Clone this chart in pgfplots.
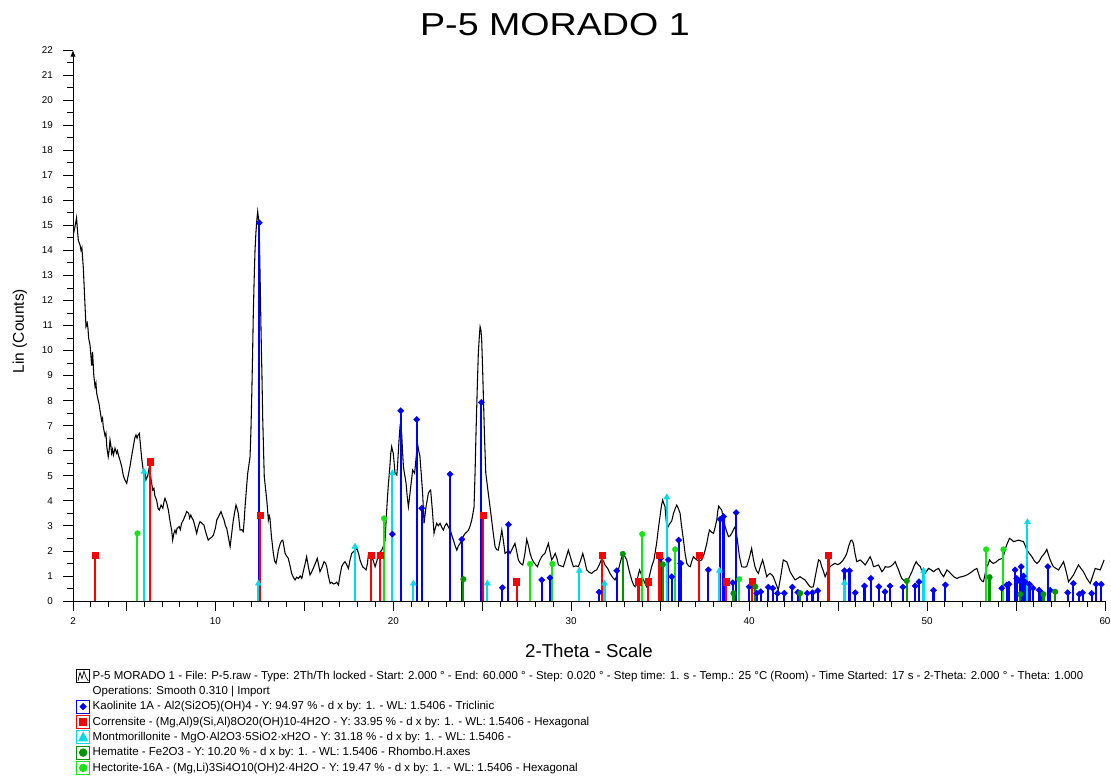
\documentclass[border=0pt]{standalone}
\usepackage{fontspec}
\setmainfont{Liberation Sans}
\usepackage{pgfplots}
\pgfplotsset{compat=1.18}
\usetikzlibrary{arrows.meta}
\definecolor{kblue}{RGB}{0,0,255}
\definecolor{cred}{RGB}{255,0,0}
\definecolor{mcyan}{RGB}{0,220,235}
\definecolor{hgreen}{RGB}{0,150,0}
\definecolor{lgreen}{RGB}{20,230,20}
\begin{document}
\begin{tikzpicture}
\useasboundingbox (-54.75pt,-132pt) rectangle (778.5pt,450.75pt);
\begin{axis}[
  at={(0,0)}, anchor=south west,
  scale only axis, width=774pt, height=413.25pt,
  xmin=2, xmax=60, ymin=0, ymax=22,
  axis x line=bottom, axis y line=left,
  x axis line style={-, line width=0.7pt},
  y axis line style={-{Latex[length=5pt,width=4pt]}, line width=0.7pt},
  tick align=outside,
  xtick={2,10,20,30,40,50,60},
  extra x ticks={5,15,25,35,45,55}, extra x tick labels={},
  minor xtick={3,4,...,59},
  ytick={0,1,...,22},
  minor ytick={0.5,1.5,...,21.5},
  major tick length=7.5pt, minor tick length=4.5pt,
  every tick/.style={black, line width=0.6pt},
  /pgf/number format/assume math mode=true,
  tick label style={font=\fontsize{7.4}{8}\selectfont},
  yticklabel style={xshift=-4pt},
  xticklabel style={yshift=-1.5pt},
  xlabel={2-Theta - Scale},
  xlabel style={at={(axis description cs:0.5,-0.0907)}, anchor=center, font=\fontsize{14}{16}\selectfont},
  ylabel={Lin (Counts)},
  ylabel style={at={(axis description cs:-0.0515,0.49)}, anchor=center, rotate=0, font=\fontsize{11.6}{13}\selectfont},
  title={\scalebox{1.185}[1]{P-5 MORADO 1}},
  title style={at={(axis description cs:0.467,1.011)}, anchor=base, font=\fontsize{23.8}{28}\selectfont},
  legend style={at={(axis description cs:0.0029,-0.1216)}, anchor=north west, draw=none, fill=none,
    inner sep=0pt, row sep=0pt, /tikz/column sep=1.2pt,
    font=\fontsize{8.62}{9.8}\selectfont,
    nodes={inner sep=0.8pt, text height=7.5pt, text depth=2.4pt}},
  legend cell align=left,
]
% measured pattern
\addplot[black, line width=0.8pt, mark=none,
  legend image code/.code={\draw[black,line width=0.5pt] (0pt,-4.9pt) rectangle (9.75pt,4.9pt);
    \draw[black,line width=0.5pt] (1pt,-3.6pt) -- (2.5pt,2.6pt) -- (4pt,-2pt) -- (5.5pt,3.6pt) -- (7pt,-1pt) -- (8.75pt,-3.8pt);}]
coordinates {
(2.04,14.7) (2.1,14.9) (2.2,15.3) (2.25,14.8) (2.3,14.4) (2.35,14.3) (2.4,14.2) (2.45,14.0) (2.5,14.1) (2.58,13.3) (2.65,12.2) (2.73,10.95) (2.8,11.1) (2.84,10.9) (2.88,10.5) (2.96,10.2) (3.05,9.4) (3.1,9.95) (3.17,9.0) (3.24,8.55) (3.29,8.7) (3.33,8.3) (3.42,8.0) (3.47,7.85) (3.52,7.6) (3.61,7.2) (3.66,7.3) (3.7,6.96) (3.8,6.6) (3.85,6.7) (3.9,6.16) (3.98,5.76) (4.03,6.0) (4.08,6.43) (4.13,6.2) (4.17,5.9) (4.22,6.05) (4.27,5.83) (4.36,6.1) (4.45,5.9) (4.5,6.0) (4.55,5.83) (4.65,5.6) (4.74,5.36) (4.83,5.0) (4.92,4.83) (5.02,4.7) (5.1,5.0) (5.2,5.36) (5.3,5.8) (5.39,6.16) (5.47,6.5) (5.54,6.63) (5.6,6.5) (5.64,6.6) (5.73,6.69) (5.8,6.16) (5.86,5.7) (5.92,5.36) (6.0,5.0) (6.05,5.1) (6.1,4.83) (6.2,5.0) (6.29,5.36) (6.38,4.9) (6.48,4.43) (6.55,4.5) (6.6,4.2) (6.7,4.03) (6.78,3.7) (6.85,3.63) (6.95,3.83) (7.05,3.7) (7.11,3.95) (7.17,4.1) (7.27,3.9) (7.36,3.63) (7.45,3.2) (7.55,2.8) (7.6,2.43) (7.67,2.7) (7.73,2.83) (7.79,2.7) (7.85,2.9) (7.97,2.97) (8.03,2.85) (8.1,3.1) (8.2,3.23) (8.3,3.4) (8.39,3.57) (8.5,3.5) (8.56,3.3) (8.62,3.43) (8.7,3.3) (8.76,3.23) (8.85,3.0) (8.95,2.7) (9.05,3.0) (9.14,3.17) (9.25,3.1) (9.36,3.03) (9.42,2.85) (9.48,2.7) (9.6,2.43) (9.7,2.5) (9.8,2.55) (9.89,2.63) (10.0,2.9) (10.08,3.23) (10.2,3.4) (10.32,3.57) (10.4,3.4) (10.49,3.23) (10.57,3.0) (10.64,2.9) (10.72,2.6) (10.83,2.17) (10.92,2.7) (11.01,3.23) (11.1,3.6) (11.16,3.83) (11.22,3.7) (11.29,3.5) (11.35,3.1) (11.39,2.83) (11.48,2.85) (11.57,2.77) (11.62,3.2) (11.67,3.76) (11.75,4.5) (11.82,5.1) (11.9,5.5) (11.95,5.76) (12.0,6.8) (12.04,8.0) (12.09,9.7) (12.13,11.35) (12.18,12.8) (12.23,14.0) (12.28,14.7) (12.33,15.2) (12.38,15.55) (12.42,15.3) (12.47,14.7) (12.52,12.8) (12.57,10.7) (12.62,9.0) (12.66,7.36) (12.71,6.0) (12.75,4.96) (12.82,4.5) (12.89,4.03) (12.94,3.6) (12.98,3.23) (13.03,3.4) (13.07,3.3) (13.15,2.6) (13.26,1.9) (13.33,1.6) (13.41,1.5) (13.48,1.75) (13.54,2.03) (13.65,2.3) (13.72,2.4) (13.79,2.43) (13.85,2.2) (13.92,1.9) (14.0,1.8) (14.1,1.7) (14.2,1.4) (14.29,1.1) (14.38,0.95) (14.48,0.84) (14.57,0.95) (14.67,0.9) (14.77,1.0) (14.86,0.9) (14.95,1.2) (15.05,1.5) (15.13,1.77) (15.22,1.4) (15.32,1.04) (15.41,1.15) (15.5,1.3) (15.62,1.5) (15.73,1.7) (15.8,1.45) (15.88,1.17) (16.0,1.35) (16.11,1.57) (16.2,1.5) (16.26,1.37) (16.35,1.0) (16.45,0.7) (16.55,0.75) (16.63,0.68) (16.73,0.7) (16.82,0.75) (16.92,0.64) (17.0,1.0) (17.1,1.37) (17.2,1.5) (17.29,1.57) (17.38,1.45) (17.48,1.3) (17.56,1.6) (17.66,1.9) (17.8,2.0) (17.95,2.1) (18.05,1.9) (18.13,1.64) (18.2,1.5) (18.28,1.37) (18.38,1.3) (18.47,1.24) (18.55,1.5) (18.6,1.84) (18.7,1.8) (18.79,1.77) (18.88,1.6) (18.98,1.37) (19.08,1.6) (19.17,1.9) (19.26,1.95) (19.35,2.03) (19.45,2.2) (19.54,2.43) (19.62,3.5) (19.68,4.2) (19.73,4.7) (19.8,5.3) (19.86,5.9) (19.91,6.16) (19.96,6.0) (20.0,5.9) (20.05,5.5) (20.1,5.1) (20.2,5.03) (20.24,5.4) (20.28,5.9) (20.33,6.5) (20.38,6.96) (20.43,6.85) (20.47,6.7) (20.52,6.0) (20.57,5.36) (20.65,5.0) (20.72,4.7) (20.78,4.2) (20.85,3.76) (20.94,4.3) (21.02,4.8) (21.09,5.23) (21.2,5.1) (21.28,5.7) (21.36,6.3) (21.43,6.0) (21.5,5.76) (21.58,5.0) (21.65,4.3) (21.73,3.1) (21.78,3.4) (21.84,3.76) (21.9,4.0) (21.97,4.3) (22.05,4.4) (22.1,4.43) (22.2,3.6) (22.29,2.7) (22.36,2.9) (22.44,3.1) (22.53,3.0) (22.63,3.1) (22.72,2.95) (22.82,2.83) (22.9,3.0) (23.0,3.1) (23.1,2.95) (23.2,2.83) (23.3,2.6) (23.38,2.43) (23.48,2.2) (23.57,2.03) (23.66,2.2) (23.76,2.3) (23.85,2.45) (23.95,2.6) (24.04,2.7) (24.13,2.75) (24.23,2.83) (24.32,3.0) (24.41,3.23) (24.48,3.5) (24.54,3.76) (24.6,5.2) (24.65,6.7) (24.72,8.5) (24.78,9.9) (24.84,10.6) (24.88,10.95) (24.93,10.8) (24.97,10.4) (25.02,9.3) (25.07,8.02) (25.13,6.5) (25.2,5.1) (25.27,4.7) (25.34,4.3) (25.43,3.8) (25.53,3.23) (25.62,2.7) (25.72,2.17) (25.81,2.05) (25.9,2.03) (26.0,2.4) (26.1,2.83) (26.19,2.4) (26.28,1.9) (26.38,1.95) (26.47,2.03) (26.56,1.9) (26.7,2.1) (26.84,2.3) (26.93,2.0) (27.03,1.64) (27.15,1.5) (27.28,1.44) (27.4,1.9) (27.5,2.46) (27.6,2.2) (27.69,1.9) (27.78,1.7) (27.87,1.57) (28.0,1.45) (28.1,1.37) (28.22,1.6) (28.34,1.77) (28.43,1.85) (28.52,1.9) (28.62,2.1) (28.72,2.3) (28.8,2.0) (28.9,1.64) (29.0,1.75) (29.1,1.9) (29.2,1.7) (29.28,1.44) (29.42,1.4) (29.56,1.37) (29.7,1.7) (29.84,2.03) (29.98,1.7) (30.12,1.37) (30.26,1.4) (30.4,1.37) (30.52,1.6) (30.65,1.9) (30.76,1.6) (30.87,1.24) (31.0,1.15) (31.15,1.1) (31.3,1.2) (31.43,1.24) (31.58,1.45) (31.72,1.7) (31.81,1.6) (31.9,1.44) (32.05,1.3) (32.18,1.1) (32.32,0.95) (32.46,0.84) (32.56,1.0) (32.65,1.24) (32.78,1.6) (32.9,1.9) (33.0,1.8) (33.12,1.64) (33.26,1.2) (33.4,0.84) (33.5,0.65) (33.59,0.57) (33.72,0.9) (33.84,1.24) (33.95,1.05) (34.06,0.84) (34.15,0.7) (34.24,0.57) (34.38,0.95) (34.52,1.37) (34.65,1.64) (34.8,2.3) (34.9,2.9) (34.99,3.37) (35.07,3.8) (35.14,4.03) (35.2,3.9) (35.27,3.77) (35.34,3.2) (35.4,2.9) (35.47,3.0) (35.55,3.1) (35.65,3.2) (35.75,3.5) (35.85,3.7) (35.93,3.83) (36.02,3.7) (36.12,3.5) (36.2,3.0) (36.31,2.43) (36.4,1.9) (36.5,1.5) (36.6,1.4) (36.69,1.37) (36.78,1.6) (36.87,1.77) (36.96,1.7) (37.06,1.64) (37.2,1.6) (37.34,1.64) (37.48,1.9) (37.62,2.3) (37.7,2.6) (37.77,2.83) (37.88,2.75) (38.0,2.7) (38.09,2.95) (38.18,3.23) (38.24,3.6) (38.29,3.79) (38.38,3.7) (38.46,3.63) (38.55,3.3) (38.65,2.97) (38.75,2.75) (38.84,2.57) (38.93,2.6) (39.02,2.7) (39.12,2.85) (39.21,2.97) (39.28,2.7) (39.34,2.43) (39.45,1.8) (39.58,1.37) (39.72,1.35) (39.86,1.37) (40.0,1.7) (40.14,2.1) (40.23,1.7) (40.33,1.37) (40.42,1.2) (40.52,1.1) (40.64,1.4) (40.76,1.64) (40.88,1.3) (40.99,0.97) (41.08,1.05) (41.17,1.1) (41.27,1.05) (41.36,0.97) (41.5,0.7) (41.64,0.44) (41.78,1.0) (41.92,1.64) (42.01,1.6) (42.11,1.57) (42.2,1.4) (42.3,1.17) (42.44,1.0) (42.58,0.84) (42.72,0.9) (42.86,0.97) (43.0,0.9) (43.14,0.84) (43.28,0.7) (43.42,0.57) (43.52,0.55) (43.61,0.57) (43.75,1.1) (43.9,1.64) (43.99,1.6) (44.08,1.37) (44.17,1.2) (44.27,0.97) (44.41,1.2) (44.55,1.37) (44.69,1.45) (44.83,1.5) (44.97,1.45) (45.11,1.5) (45.25,1.6) (45.4,1.77) (45.49,1.9) (45.6,2.2) (45.7,2.4) (45.77,2.43) (45.86,2.3) (45.95,1.9) (46.05,1.57) (46.15,1.6) (46.24,1.64) (46.38,1.55) (46.52,1.44) (46.66,1.6) (46.8,1.77) (46.9,1.6) (46.99,1.37) (47.13,1.4) (47.27,1.44) (47.37,1.3) (47.46,1.17) (47.56,1.25) (47.65,1.37) (47.79,1.35) (47.93,1.37) (48.07,1.45) (48.21,1.57) (48.3,1.4) (48.4,1.24) (48.49,1.05) (48.58,0.9) (48.72,0.8) (48.86,0.7) (49.0,0.95) (49.15,1.17) (49.27,1.4) (49.39,1.57) (49.5,1.45) (49.62,1.37) (49.71,1.2) (49.8,1.04) (49.94,1.15) (50.08,1.3) (50.22,1.25) (50.36,1.17) (50.5,1.25) (50.65,1.3) (50.79,1.1) (50.93,0.97) (51.02,1.1) (51.12,1.24) (51.26,1.15) (51.4,1.04) (51.54,0.95) (51.68,0.9) (51.82,0.95) (51.96,0.97) (52.1,1.0) (52.24,1.04) (52.38,1.1) (52.52,1.17) (52.66,1.25) (52.8,1.3) (52.89,1.1) (52.98,0.9) (53.08,0.8) (53.17,0.77) (53.27,1.1) (53.36,1.37) (53.45,1.5) (53.51,1.64) (53.62,1.55) (53.73,1.5) (53.87,1.55) (54.01,1.64) (54.13,1.68) (54.26,1.7) (54.35,1.95) (54.44,2.17) (54.54,2.35) (54.63,2.5) (54.75,2.45) (54.86,2.37) (55.0,2.4) (55.14,2.43) (55.28,2.4) (55.42,2.37) (55.52,2.2) (55.61,2.03) (55.75,1.9) (55.89,1.77) (56.03,1.6) (56.17,1.5) (56.31,1.6) (56.45,1.77) (56.6,1.9) (56.73,2.06) (56.82,1.85) (56.92,1.64) (57.01,1.5) (57.1,1.37) (57.25,1.3) (57.39,1.24) (57.53,1.4) (57.67,1.57) (57.81,1.2) (57.95,0.77) (58.09,0.9) (58.23,1.04) (58.37,1.25) (58.51,1.44) (58.65,1.3) (58.79,1.17) (58.98,0.9) (59.17,0.7) (59.31,1.0) (59.45,1.3) (59.59,1.27) (59.73,1.24) (59.85,1.45) (59.95,1.64)
};
\addlegendentry{P-5 MORADO 1 - File: P-5.raw - Type: 2Th/Th locked - Start: 2.000 ° - End: 60.000 ° - Step: 0.020 ° - Step time: 1. s - Temp.: 25 °C (Room) - Time Started: 17 s - 2-Theta: 2.000 ° - Theta: 1.000}
\addlegendimage{empty legend}
\addlegendentry{Operations: Smooth 0.310 | Import}
% Kaolinite
\addplot[ycomb, draw=kblue, line width=1.6pt, mark=square*, mark size=1.65pt,
  mark options={solid, rotate=45, fill=kblue, draw=kblue, line width=0.3pt},
  legend image code/.code={\draw[kblue,line width=0.6pt,fill=white] (0pt,-4.9pt) rectangle (9.75pt,4.9pt);
    \draw[kblue,fill=kblue,line width=0.3pt] (4.875pt,-2.5pt) -- (7.375pt,0pt) -- (4.875pt,2.5pt) -- (2.375pt,0pt) -- cycle;}]
coordinates {
(12.47,15.1) (19.95,2.67) (20.42,7.6) (21.32,7.25) (21.6,3.7) (23.19,5.06) (23.85,2.46) (24.95,7.93) (26.13,0.53) (26.47,3.05) (28.34,0.84) (28.81,0.93) (31.57,0.35) (32.56,1.21) (35.03,1.7) (35.46,1.64) (35.65,0.97) (36.04,2.43) (36.16,1.5) (37.71,1.24) (38.37,3.26) (38.56,3.37) (39.08,0.73) (39.27,3.53) (40.01,0.57) (40.43,0.31) (40.65,0.37) (41.08,0.55) (41.33,0.51) (41.59,0.31) (41.98,0.31) (42.43,0.55) (42.73,0.35) (43.27,0.31) (43.56,0.33) (43.86,0.41) (45.36,1.21) (45.64,1.21) (45.96,0.33) (46.48,0.6) (46.84,0.9) (47.29,0.57) (47.64,0.37) (47.92,0.6) (48.64,0.55) (49.33,0.6) (49.55,0.77) (50.36,0.43) (51.03,0.64) (54.2,0.51) (54.48,0.64) (54.6,0.67) (54.95,1.24) (55.04,0.9) (55.2,0.8) (55.29,1.37) (55.42,1.0) (55.5,0.77) (55.76,0.67) (55.95,0.51) (56.3,0.43) (56.43,0.33) (56.79,1.37) (56.92,0.43) (57.9,0.33) (58.22,0.7) (58.55,0.27) (58.74,0.33) (59.25,0.3) (59.5,0.67) (59.79,0.67)
};
\addlegendentry{Kaolinite 1A - Al2(Si2O5)(OH)4 - Y: 94.97 \% - d x by: 1. - WL: 1.5406 - Triclinic}
% Corrensite
\addplot[ycomb, draw=cred, line width=1.6pt, mark=square*, mark size=2.3pt,
  mark options={solid, fill=cred, draw=cred, line width=0.3pt},
  legend image code/.code={\draw[cred,line width=0.6pt,fill=white] (0pt,-4.9pt) rectangle (9.75pt,4.9pt);
    \fill[cred] (2.6pt,-2.3pt) rectangle (7.15pt,2.3pt);}]
coordinates {
(3.24,1.84) (6.33,5.56) (12.51,3.43) (18.75,1.84) (19.26,1.84) (25.03,3.43) (26.93,0.77) (31.75,1.84) (33.78,0.77) (34.34,0.77) (34.96,1.84) (37.2,1.84) (38.7,0.77) (40.15,0.77) (44.46,1.84)
};
\addlegendentry{Corrensite - (Mg,Al)9(Si,Al)8O20(OH)10-4H2O - Y: 33.95 \% - d x by: 1. - WL: 1.5406 - Hexagonal}
% Montmorillonite
\addplot[ycomb, draw=mcyan, line width=1.6pt, mark=triangle*, mark size=2.6pt,
  mark options={solid, fill=mcyan, draw=mcyan, line width=0.3pt},
  legend image code/.code={\draw[mcyan,line width=0.6pt,fill=white] (0pt,-4.9pt) rectangle (9.75pt,4.9pt);
    \fill[mcyan] (2.4pt,-2.2pt) -- (7.35pt,-2.2pt) -- (4.875pt,2.6pt) -- cycle;}]
coordinates {
(5.99,5.16) (12.42,0.7) (17.85,2.17) (19.95,5.1) (21.13,0.7) (25.29,0.7) (30.46,1.21) (31.87,0.7) (35.37,4.14) (38.33,1.21) (45.36,0.73) (49.8,1.21) (55.64,3.15)
};
\addlegendentry{Montmorillonite - MgO·Al2O3·5SiO2·xH2O - Y: 31.18 \% - d x by: 1. - WL: 1.5406 -}
% Hematite
\addplot[ycomb, draw=hgreen, line width=1.6pt, mark=*, mark size=2.1pt,
  mark options={solid, fill=hgreen, draw=hgreen, line width=0.3pt},
  legend image code/.code={\draw[hgreen,line width=0.6pt,fill=white] (0pt,-4.9pt) rectangle (9.75pt,4.9pt);
    \fill[hgreen] (4.875pt,0pt) circle (2.3pt);}]
coordinates {
(23.94,0.87) (32.9,1.88) (35.15,1.46) (39.12,0.31) (40.35,0.57) (42.87,0.31) (48.86,0.8) (53.51,0.95) (55.24,0.27) (56.54,0.27) (57.2,0.37)
};
\addlegendentry{Hematite - Fe2O3 - Y: 10.20 \% - d x by: 1. - WL: 1.5406 - Rhombo.H.axes}
% Hectorite
\addplot[ycomb, draw=lgreen, line width=1.6pt, mark=*, mark size=2.1pt,
  mark options={solid, fill=lgreen, draw=lgreen, line width=0.3pt},
  legend image code/.code={\draw[lgreen,line width=0.6pt,fill=white] (0pt,-4.9pt) rectangle (9.75pt,4.9pt);
    \fill[lgreen] (4.875pt,0pt) circle (2.3pt);}]
coordinates {
(5.62,2.7) (19.48,3.3) (27.69,1.48) (28.94,1.48) (33.99,2.67) (35.84,2.06) (39.45,0.87) (53.32,2.06) (54.29,2.06)
};
\addlegendentry{Hectorite-16A - (Mg,Li)3Si4O10(OH)2·4H2O - Y: 19.47 \% - d x by: 1. - WL: 1.5406 - Hexagonal}
\end{axis}
\end{tikzpicture}
\end{document}
